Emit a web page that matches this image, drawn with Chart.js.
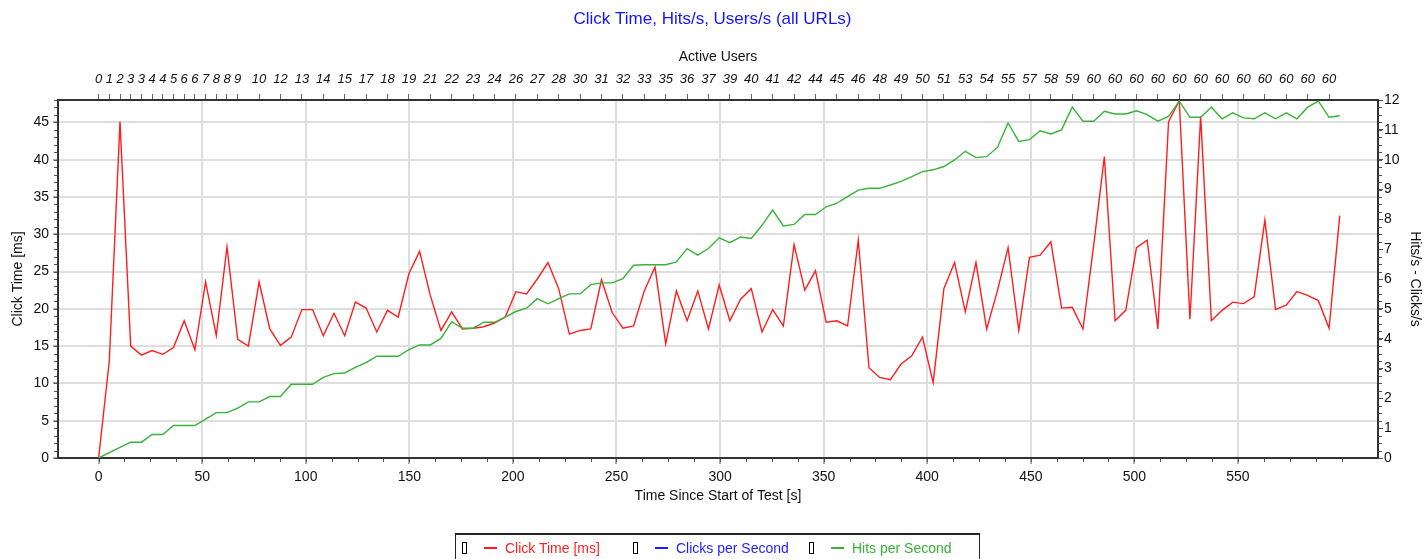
<!DOCTYPE html>
<html>
<head>
<meta charset="utf-8">
<title>Click Time, Hits/s, Users/s</title>
<script src="https://cdn.jsdelivr.net/npm/chart.js@4.4.1/dist/chart.umd.min.js"></script>
<style>
  html, body { margin: 0; padding: 0; background: #fff; overflow: hidden; }
  #wrap { position: relative; width: 1425px; height: 559px; }
  #legend {
    position: absolute; left: 455px; top: 533px; width: 525px; height: 40px;
    border: 1px solid #222; border-top-width: 2px; box-sizing: border-box;
    font: 14px "Liberation Sans", Arial, sans-serif; white-space: nowrap;
  }
  #legend .item { position: absolute; top: 5px; }
  #legend .chk { display: inline-block; width: 3px; height: 10px; border: 1px solid #000; vertical-align: -1px; margin-right: 17px; }
  #legend .ln { display: inline-block; width: 13px; height: 2px; vertical-align: 4px; margin-right: 8px; }
</style>
</head>
<body>
<div id="wrap">
  <canvas id="chart" width="1425" height="559"></canvas>
  <div id="legend"></div>
</div>
<script>
// sampling clock of the test run (seconds between samples)
const SAMPLE_INTERVAL = 5.165;

// Click Time [ms], one value per sample
const clickTime = [
  0, 13, 45.1, 15.0, 13.8, 14.4, 13.9, 14.8, 18.4, 14.5,
  23.6, 16.4, 28.3, 15.9, 15.0, 23.6, 17.3, 15.1, 16.2, 19.9,
  19.9, 16.4, 19.4, 16.4, 20.9, 20.1, 16.9, 19.8, 18.9, 24.7,
  27.7, 21.8, 17.1, 19.6, 17.3, 17.4, 17.6, 18.1, 18.9, 22.3,
  22.0, 24.0, 26.2, 22.7, 16.6, 17.1, 17.3, 23.9, 19.5, 17.4,
  17.7, 22.4, 25.6, 15.3, 22.4, 18.4, 22.4, 17.3, 23.2, 18.4,
  21.3, 22.7, 16.9, 19.9, 17.7, 28.6, 22.5, 25.1, 18.2, 18.4,
  17.7, 29.2, 12.1, 10.8, 10.5, 12.6, 13.7, 16.2, 10.1, 22.7,
  26.2, 19.6, 26.2, 17.3, 22.4, 28.2, 17.1, 26.9, 27.2, 29.0,
  20.1, 20.2, 17.3, 28.5, 40.4, 18.4, 19.8, 28.2, 29.2, 17.3,
  45.1, 47.9, 18.6, 45.8, 18.4, 19.8, 20.9, 20.7, 21.6, 31.9,
  19.9, 20.5, 22.3, 21.8, 21.1, 17.4, 32.5
];

// Hits per Second, one value per sample
const hitsPerSecond = [
  0, 0.18, 0.36, 0.53, 0.53, 0.79, 0.79, 1.09, 1.09, 1.09,
  1.30, 1.52, 1.52, 1.67, 1.88, 1.88, 2.06, 2.06, 2.47, 2.47,
  2.47, 2.70, 2.83, 2.85, 3.04, 3.20, 3.41, 3.41, 3.41, 3.63,
  3.79, 3.79, 4.01, 4.57, 4.35, 4.35, 4.55, 4.55, 4.72, 4.91,
  5.02, 5.34, 5.17, 5.34, 5.50, 5.50, 5.81, 5.87, 5.87, 6.01,
  6.46, 6.48, 6.48, 6.48, 6.57, 7.02, 6.80, 7.02, 7.38, 7.22,
  7.41, 7.36, 7.80, 8.31, 7.78, 7.83, 8.16, 8.16, 8.42, 8.54,
  8.76, 8.98, 9.04, 9.04, 9.15, 9.27, 9.43, 9.60, 9.66, 9.77,
  9.99, 10.28, 10.07, 10.10, 10.41, 11.23, 10.61, 10.67, 10.97, 10.86,
  11.00, 11.76, 11.29, 11.29, 11.62, 11.53, 11.53, 11.64, 11.51, 11.29,
  11.45, 11.96, 11.42, 11.42, 11.76, 11.37, 11.57, 11.40, 11.37, 11.57,
  11.37, 11.57, 11.37, 11.76, 11.96, 11.42, 11.47
];

// Clicks per Second (drawn underneath the hits line, legend only)
const clicksPerSecond = [];

// Active users shown on the top axis, and the sample each label belongs to
const activeUsers = [
  0, 1, 2, 3, 3, 4, 4, 5, 6, 6, 7, 8, 8, 9,
  10, 12, 13, 14, 15, 17, 18, 19, 21, 22, 23, 24, 26, 27, 28, 30,
  31, 32, 33, 35, 36, 37, 39, 40, 41, 42, 44, 45, 46, 48, 49, 50,
  51, 53, 54, 55, 57, 58, 59,
  60, 60, 60, 60, 60, 60, 60, 60, 60, 60, 60, 60
];
const userTickSamples = [];
for (let i = 0; i <= 13; i++) userTickSamples.push(i);
for (let i = 15; i <= 115; i += 2) userTickSamples.push(i);

const timeTicks = [0, 50, 100, 150, 200, 250, 300, 350, 400, 450, 500, 550];
const clickTicks = [0, 5, 10, 15, 20, 25, 30, 35, 40, 45];
const rateTicks = [0, 1, 2, 3, 4, 5, 6, 7, 8, 9, 10, 11, 12];

const COLORS = { click: '#ff1e1e', clicks: '#1e1eff', hits: '#38b238' };
const GRID = '#dedede';
const FONT = '"Liberation Sans", Arial, sans-serif';
Chart.defaults.font.family = FONT;
Chart.defaults.color = '#111';

const toPoints = arr => arr.map((v, i) => ({ x: i * SAMPLE_INTERVAL, y: v }));

// small unlabeled ticks between the labelled ones
const minorTicks = {
  id: 'minorTicks',
  afterDraw(chart) {
    const { ctx, scales: { x, y, y2 } } = chart;
    ctx.save();
    ctx.strokeStyle = '#555';
    ctx.lineWidth = 1;
    ctx.beginPath();
    for (let v = 0; v <= 600; v += 12.5) {
      const px = Math.round(x.getPixelForValue(v)) + 0.5;
      ctx.moveTo(px, x.top + 1); ctx.lineTo(px, x.top + 4);
    }
    for (let v = 0; v <= 48; v += 1) {
      const py = Math.round(y.getPixelForValue(v)) + 0.5;
      ctx.moveTo(y.right - 1, py); ctx.lineTo(y.right - 4, py);
    }
    for (let v = 0; v <= 12; v += 0.25) {
      const py = Math.round(y2.getPixelForValue(v)) + 0.5;
      ctx.moveTo(y2.left + 1, py); ctx.lineTo(y2.left + 4, py);
    }
    ctx.stroke();
    ctx.restore();
  }
};

const ctx = document.getElementById('chart').getContext('2d');
const chart = new Chart(ctx, {
  type: 'line',
  data: {
    datasets: [{
      label: 'Click Time [ms]',
      data: toPoints(clickTime),
      borderColor: COLORS.click,
      borderWidth: 1.4,
      yAxisID: 'y',
      xAxisID: 'x',
      order: 2
    }, {
      label: 'Clicks per Second',
      data: toPoints(clicksPerSecond),
      borderColor: COLORS.clicks,
      borderWidth: 1.4,
      yAxisID: 'y2',
      xAxisID: 'x',
      order: 1
    }, {
      label: 'Hits per Second',
      data: toPoints(hitsPerSecond),
      borderColor: COLORS.hits,
      borderWidth: 1.4,
      yAxisID: 'y2',
      xAxisID: 'x',
      order: 0
    }]
  },
  options: {
    responsive: false,
    animation: false,
    devicePixelRatio: 1,
    layout: { padding: 0 },
    elements: {
      line: { tension: 0, fill: false },
      point: { radius: 0 }
    },
    plugins: {
      legend: { display: false },
      tooltip: { enabled: false },
      title: {
        display: true,
        text: 'Click Time, Hits/s, Users/s (all URLs)',
        color: '#1414ff',
        font: { size: 17, weight: 'normal' },
        padding: { top: 9, bottom: 0 }
      }
    },
    scales: {
      x: {
        type: 'linear',
        position: 'bottom',
        min: -19.6,
        max: 617.6,
        afterFit: s => { s.height = 101; },
        afterBuildTicks: s => { s.ticks = timeTicks.map(v => ({ value: v })); },
        ticks: { autoSkip: false, maxRotation: 0, padding: 5, font: { size: 14 }, color: '#111' },
        grid: {
          // no vertical line at time zero
          color: c => (c.tick && c.tick.value === 0 ? 'rgba(0,0,0,0)' : GRID),
          lineWidth: 2, tickLength: 6, tickColor: '#555', tickWidth: 1
        },
        border: { display: true, color: '#333', width: 2 },
        title: {
          display: true, text: 'Time Since Start of Test [s]',
          font: { size: 14 }, color: '#111', padding: { top: 0, bottom: 54 }
        }
      },
      xTop: {
        type: 'linear',
        position: 'top',
        min: -19.6,
        max: 617.6,
        afterFit: s => { s.height = 70.6; },
        afterBuildTicks: s => { s.ticks = userTickSamples.map(i => ({ value: i * SAMPLE_INTERVAL })); },
        ticks: {
          autoSkip: false, maxRotation: 0, padding: 7,
          font: { size: 13, style: 'italic' }, color: '#111',
          callback: (value, index) => activeUsers[index]
        },
        grid: { drawOnChartArea: false, tickLength: 6, tickColor: '#666', tickWidth: 1 },
        border: { display: true, color: '#333', width: 2 },
        title: {
          display: true, text: 'Active Users',
          font: { size: 14 }, color: '#111', padding: { top: 19, bottom: 0 }
        }
      },
      y: {
        type: 'linear',
        position: 'left',
        min: 0,
        max: 48,
        afterFit: s => { s.width = 58; },
        afterBuildTicks: s => { s.ticks = clickTicks.map(v => ({ value: v })); },
        ticks: { padding: 4, font: { size: 14 }, color: '#111' },
        grid: { color: GRID, lineWidth: 2, tickLength: 5, tickColor: '#555', tickWidth: 1 },
        border: { display: true, color: '#333', width: 2 },
        title: {
          display: true, text: 'Click Time [ms]',
          font: { size: 14 }, color: '#111', padding: { top: 10, bottom: 0 }
        }
      },
      y2: {
        type: 'linear',
        position: 'right',
        min: 0,
        max: 12,
        afterFit: s => { s.width = 47; },
        afterBuildTicks: s => { s.ticks = rateTicks.map(v => ({ value: v })); },
        ticks: { padding: 1, font: { size: 14 }, color: '#111' },
        grid: { drawOnChartArea: false, tickLength: 5, tickColor: '#555', tickWidth: 1 },
        border: { display: true, color: '#333', width: 2 },
        title: {
          display: true, text: 'Hits/s - Clicks/s',
          font: { size: 14 }, color: '#111', padding: { top: 2, bottom: 0 }
        }
      }
    }
  },
  plugins: [minorTicks]
});

// legend strip under the chart, in the series colours
const legendItems = [
  { text: 'Click Time [ms]', color: COLORS.click, left: 6 },
  { text: 'Clicks per Second', color: COLORS.clicks, left: 177 },
  { text: 'Hits per Second', color: COLORS.hits, left: 353 }
];
const legendEl = document.getElementById('legend');
legendItems.forEach(item => {
  const el = document.createElement('span');
  el.className = 'item';
  el.style.left = item.left + 'px';
  el.innerHTML = '<span class="chk"></span><span class="ln" style="background:' + item.color +
    '"></span><span style="color:' + item.color + '">' + item.text + '</span>';
  legendEl.appendChild(el);
});
</script>
</body>
</html>
